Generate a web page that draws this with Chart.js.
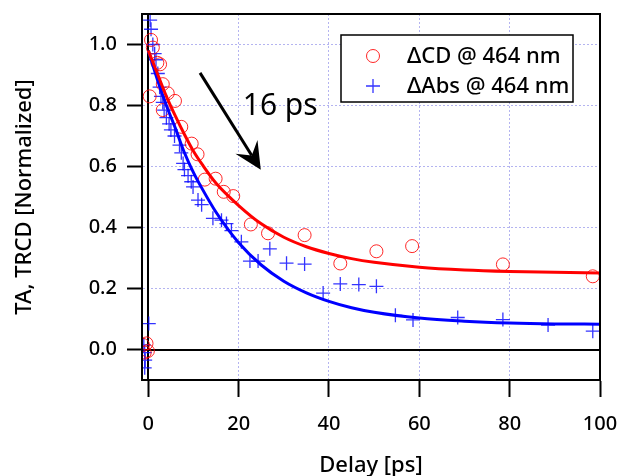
<!DOCTYPE html>
<html>
<head>
<meta charset="utf-8">
<script src="https://cdn.jsdelivr.net/npm/chart.js@4.4.0/dist/chart.umd.min.js"></script>
<style>
  html, body { margin: 0; padding: 0; background: #fff; }
</style>
</head>
<body>
<canvas id="chart" width="620" height="476"></canvas>
<script>
// measured points, Delta CD @ 464 nm
const cdDelay = [-1.2, -0.8, -0.4, -0.1, 0.3, 0.6, 1.0, 2.0, 2.6, 3.2, 3.2, 4.3, 5.9,
  7.3, 9.6, 10.9, 12.5, 14.9, 16.7, 18.8, 22.7, 26.5, 34.6, 42.5, 50.5, 58.4, 78.5, 98.4];
const cdValue = [0.015, -0.01, 0.02, -0.005, 0.83, 1.015, 0.99, 0.94, 0.935, 0.87, 0.785, 0.84, 0.815,
  0.73, 0.675, 0.64, 0.557, 0.56, 0.517, 0.503, 0.41, 0.381, 0.375, 0.282, 0.322, 0.339, 0.279, 0.24];

// measured points, Delta Abs @ 464 nm
const absDelay = [-1.0, -0.8, -0.7, -0.8, 0.1, 0.4, 0.6, 1.0, 1.4, 1.7, 2.1, 2.5, 2.8, 3.2, 3.5,
  4.0, 4.6, 5.0, 5.8, 6.9, 7.3, 7.7, 8.0, 8.8, 9.5, 9.9, 11.0, 11.8, 14.3, 16.2, 17.3, 18.4,
  20.6, 22.5, 24.3, 26.9, 30.6, 34.6, 38.7, 42.5, 46.6, 50.5, 54.7, 58.6, 68.5, 78.5, 88.5, 98.4];
const absValue = [0.015, -0.01, -0.035, -0.06, 0.085, 1.08, 1.05, 1.0, 0.97, 0.95, 0.905, 0.86, 0.83, 0.81, 0.785,
  0.76, 0.74, 0.72, 0.70, 0.67, 0.645, 0.61, 0.59, 0.57, 0.55, 0.533, 0.49, 0.475, 0.43, 0.424, 0.413, 0.39,
  0.353, 0.29, 0.29, 0.33, 0.283, 0.28, 0.185, 0.215, 0.213, 0.207, 0.112, 0.097, 0.105, 0.098, 0.08, 0.06];

// fitted curves
const fitDelay = [0, 2, 4, 6, 8, 10, 12, 15, 20, 25, 30, 35, 40, 45, 50, 60, 70, 80, 90, 100];
const cdFit =  [0.98, 0.905, 0.83, 0.765, 0.705, 0.65, 0.605, 0.545, 0.472, 0.412, 0.368, 0.337, 0.315, 0.298, 0.286, 0.27, 0.261, 0.256, 0.253, 0.251];
const absFit = [0.98, 0.885, 0.80, 0.725, 0.645, 0.58, 0.525, 0.45, 0.35, 0.277, 0.224, 0.186, 0.158, 0.137, 0.122, 0.103, 0.093, 0.087, 0.084, 0.083];

const xTicks = [0, 20, 40, 60, 80, 100];
const yTicks = [0, 0.2, 0.4, 0.6, 0.8, 1.0];

const seriesLabels = ['\u0394CD @ 464 nm', '\u0394Abs @ 464 nm'];

// annotation (data coords)
const arrowFrom = [11.45, 0.907];
const arrowTo = [24.9, 0.589];
const noteText = '16 ps';
const notePos = [20.9, 0.769];

const pts = (xs, ys) => xs.map((x, i) => ({ x: x, y: ys[i] }));

const FONT = "'Noto Sans', 'DejaVu Sans', sans-serif";

const decor = {
  id: 'decor',
  beforeDatasetsDraw(chart) {
    const { ctx, chartArea: a, scales: { x, y } } = chart;
    ctx.save();
    ctx.strokeStyle = '#000';
    ctx.lineWidth = 2;
    const x0 = Math.round(x.getPixelForValue(0));
    const y0 = Math.round(y.getPixelForValue(0));
    ctx.beginPath();
    ctx.moveTo(x0, a.top); ctx.lineTo(x0, a.bottom);
    ctx.moveTo(a.left, y0); ctx.lineTo(a.right, y0);
    ctx.stroke();
    ctx.restore();
  },
  afterDatasetsDraw(chart) {
    const { ctx, chartArea: a, scales: { x, y } } = chart;
    ctx.save();
    ctx.strokeStyle = '#000';
    ctx.lineWidth = 2;
    ctx.strokeRect(a.left, a.top, a.right - a.left, a.bottom - a.top);

    // arrow
    const x1 = x.getPixelForValue(arrowFrom[0]), y1 = y.getPixelForValue(arrowFrom[1]);
    const x2 = x.getPixelForValue(arrowTo[0]), y2 = y.getPixelForValue(arrowTo[1]);
    const len = Math.hypot(x2 - x1, y2 - y1);
    const ux = (x2 - x1) / len, uy = (y2 - y1) / len;
    const px = -uy, py = ux;
    const nx = x2 - 17 * ux, ny = y2 - 17 * uy;
    ctx.lineWidth = 3;
    ctx.beginPath();
    ctx.moveTo(x1, y1); ctx.lineTo(nx, ny);
    ctx.stroke();
    const bx = x2 - 27 * ux, by = y2 - 27 * uy;
    ctx.fillStyle = '#000';
    ctx.beginPath();
    ctx.moveTo(x2, y2);
    ctx.lineTo(bx + 13 * px, by + 13 * py);
    ctx.lineTo(nx, ny);
    ctx.lineTo(bx - 13 * px, by - 13 * py);
    ctx.closePath();
    ctx.fill();

    ctx.font = '30px ' + FONT;
    ctx.textBaseline = 'alphabetic';
    ctx.fillText(noteText, x.getPixelForValue(notePos[0]), y.getPixelForValue(notePos[1]));

    // legend box
    const lx = 341, ly = 35, lw = 232, lh = 67;
    ctx.fillStyle = '#fff';
    ctx.fillRect(lx, ly, lw, lh);
    ctx.lineWidth = 1.5;
    ctx.strokeRect(lx, ly, lw, lh);
    const rows = [ly + 21, ly + 51];
    [0, 1].forEach(i => {
      const ds = chart.data.datasets[i];
      const cx = lx + 32, cy = rows[i], r = ds.pointRadius;
      ctx.strokeStyle = ds.borderColor;
      ctx.lineWidth = ds.borderWidth;
      ctx.beginPath();
      if (ds.pointStyle === 'circle') {
        ctx.arc(cx, cy, r, 0, Math.PI * 2);
      } else {
        ctx.moveTo(cx - r, cy); ctx.lineTo(cx + r, cy);
        ctx.moveTo(cx, cy - r); ctx.lineTo(cx, cy + r);
      }
      ctx.stroke();
      ctx.fillStyle = '#000';
      ctx.font = '500 22px ' + FONT;
      ctx.textBaseline = 'middle';
      ctx.fillText(ds.label, lx + 66, cy + 1);
    });
    ctx.restore();
  }
};

const gridColor = c => (c.tick && (c.tick.value === 0 || c.tick.value === 100)) ? 'rgba(0,0,0,0)' : '#b4b4f0';

new Chart(document.getElementById('chart'), {
  type: 'scatter',
  data: {
    datasets: [
      {
        label: seriesLabels[0],
        data: pts(cdDelay, cdValue),
        pointStyle: 'circle',
        pointRadius: 6.5,
        borderWidth: 1,
        borderColor: 'rgba(255,0,0,0.85)',
        backgroundColor: 'rgba(0,0,0,0)',
        order: 3
      },
      {
        label: seriesLabels[1],
        data: pts(absDelay, absValue),
        pointStyle: 'cross',
        pointRadius: 7,
        borderWidth: 1.3,
        borderColor: 'rgba(0,0,255,0.8)',
        backgroundColor: 'rgba(0,0,0,0)',
        order: 4
      },
      {
        type: 'line',
        label: 'cd fit',
        data: pts(fitDelay, cdFit),
        borderColor: '#ff0000',
        borderWidth: 3,
        pointRadius: 0,
        cubicInterpolationMode: 'monotone',
        fill: false,
        order: 1
      },
      {
        type: 'line',
        label: 'abs fit',
        data: pts(fitDelay, absFit),
        borderColor: '#0000ff',
        borderWidth: 3,
        pointRadius: 0,
        cubicInterpolationMode: 'monotone',
        fill: false,
        order: 2
      }
    ]
  },
  options: {
    responsive: false,
    animation: false,
    layout: { padding: { top: 14, right: 20, left: 0, bottom: 0 } },
    plugins: { legend: { display: false }, tooltip: { enabled: false } },
    scales: {
      x: {
        type: 'linear',
        min: -1.4,
        max: 100,
        afterBuildTicks: s => { s.ticks = xTicks.map(v => ({ value: v })); },
        afterFit: s => { s.height = 96; s.paddingLeft = 0; s.paddingRight = 0; },
        grid: { color: gridColor, lineWidth: 1, tickLength: 17, tickColor: '#000', tickWidth: 2, tickBorderDash: [] },
        border: { display: true, color: '#000', width: 2, dash: [2, 2] },
        ticks: { color: '#000', padding: 15, font: { family: FONT, size: 20, weight: '500' }, maxRotation: 0 },
        title: { display: true, text: 'Delay [ps]', color: '#000', font: { family: FONT, size: 22, weight: '500' }, padding: { top: 0, bottom: -3 } }
      },
      y: {
        type: 'linear',
        min: -0.1,
        max: 1.1,
        afterBuildTicks: s => { s.ticks = yTicks.map(v => ({ value: v })); },
        afterFit: s => { s.width = 142; s.paddingTop = 0; s.paddingBottom = 0; },
        grid: { color: gridColor, lineWidth: 1, tickLength: 15, tickColor: '#000', tickWidth: 2, tickBorderDash: [] },
        border: { display: true, color: '#000', width: 2, dash: [2, 2] },
        ticks: { color: '#000', padding: 10, font: { family: FONT, size: 20, weight: '500' }, callback: v => v.toFixed(1) },
        title: { display: true, text: 'TA, TRCD [Normalized]', color: '#000', font: { family: FONT, size: 22, weight: '500' }, padding: { top: 12, bottom: 0 } }
      }
    }
  },
  plugins: [decor]
});
</script>
</body>
</html>
